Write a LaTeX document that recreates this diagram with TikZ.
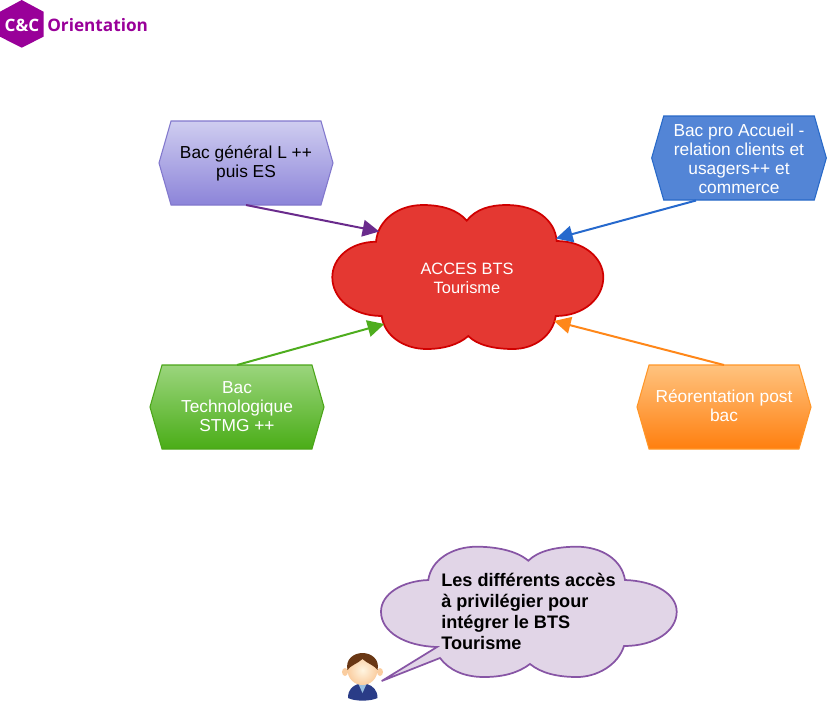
\documentclass[tikz,border=0pt]{standalone}
\usepackage{fontspec}
\setmainfont{Liberation Sans}
\newfontfamily\logofont{Open Sans}
\usetikzlibrary{arrows.meta,shapes.symbols,shadings}
\definecolor{logop}{HTML}{990099}
\definecolor{suit}{RGB}{42,60,135}
\definecolor{tie}{RGB}{150,190,225}
\definecolor{skin}{RGB}{250,205,160}
\definecolor{skinl}{RGB}{255,245,225}
\definecolor{hair}{RGB}{105,55,20}
\definecolor{cloudd}{RGB}{208,0,0}
\definecolor{cloudf}{RGB}{228,56,50}
\definecolor{bubd}{RGB}{135,85,165}
\definecolor{bubf}{RGB}{225,213,231}
\tikzset{
  x=0.75pt,y=-0.75pt,
  hexa/.style={signal,signal to=east and west,signal pointer angle=148,minimum width=130.5pt,minimum height=63pt,inner sep=0pt,outer sep=0pt,line width=0.8pt},
  hexlabel/.style={align=center,font=\fontsize{13}{14.3}\selectfont,inner sep=0pt},
  conn/.style={line width=1.5pt,-{Triangle[length=12.5pt,width=12.5pt]}},
  cloudtext/.style={align=center,text=white,font=\fontsize{12.3}{14.3}\selectfont},
}
\begin{document}
\begin{tikzpicture}
\useasboundingbox (0,0) rectangle (827,701);
% logo
\fill[logop] (21.7,0) -- (43.5,11.7) -- (43.5,36.7) -- (21.7,47.7) -- (0,36.7) -- (0,11.7) -- cycle;
\node[text=white,font=\logofont\bfseries\fontsize{12.8}{16}\selectfont,inner sep=0pt] (logoa) at (22,25) {C\&C};
\node[text=logop,font=\logofont\bfseries\fontsize{12.9}{16}\selectfont,inner sep=0pt,anchor=west] (logob) at (47,25) {Orientation};
% central cloud
\path[draw=cloudd,fill=cloudf,line width=1.3pt]
 (466.7,220.7) .. controls (476,209) and (490,205) .. (506.7,205)
 .. controls (536,205) and (555,220) .. (556.7,241)
 .. controls (584,241) and (603.3,258) .. (603.3,277.3)
 .. controls (603.3,298) and (584,316) .. (555.7,316)
 .. controls (553,335) and (535,349) .. (513,349)
 .. controls (494,349) and (477,345) .. (468.3,336)
 .. controls (458,345) and (443,349) .. (426.7,349)
 .. controls (403,349) and (384,335) .. (381.7,316)
 .. controls (352,316) and (332.3,298) .. (332.3,277.3)
 .. controls (332.3,258) and (350,242) .. (376,241.7)
 .. controls (378,220) and (398,205) .. (423,205)
 .. controls (442,205) and (458,210) .. (466.7,220.7) -- cycle;
\node[cloudtext,inner sep=0pt] (cloud) at (467,278.5) {ACCES BTS\\Tourisme};
\coordinate (tipa) at (379.3,231.5);
\coordinate (tipb) at (556,238.5);
\coordinate (tipc) at (384.3,324);
\coordinate (tipd) at (554,321);
\coordinate (blueout) at (696,200.5);
% sources
\node[hexa,draw={rgb,255:red,130;green,120;blue,205},top color={rgb,255:red,207;green,205;blue,240},bottom color={rgb,255:red,140;green,132;blue,217},label={[hexlabel,yshift=-0.6pt]center:Bac général L ++\\puis ES}] (gen) at (246,163) {};
\node[hexa,draw={rgb,255:red,40;green,105;blue,200},fill={rgb,255:red,83;green,133;blue,214},minimum width=131pt,label={[hexlabel,text=white,yshift=-0.75pt]center:Bac pro Accueil -\\relation clients et\\usagers++ et\\commerce}] (pro) at (739,158) {};
\node[hexa,draw={rgb,255:red,75;green,165;blue,25},top color={rgb,255:red,155;green,213;blue,125},bottom color={rgb,255:red,74;green,173;blue,23},label={[hexlabel,text=white]center:Bac\\Technologique\\STMG ++}] (tec) at (237,407) {};
\node[hexa,draw={rgb,255:red,255;green,150;blue,40},top color={rgb,255:red,255;green,195;blue,127},bottom color={rgb,255:red,255;green,127;blue,15},label={[hexlabel,text=white,yshift=0.75pt]center:Réorentation post\\bac}] (reo) at (724,407) {};
% connectors
\draw[conn,draw={rgb,255:red,106;green,43;blue,140},fill={rgb,255:red,106;green,43;blue,140}] (gen.south) -- (tipa);
\draw[conn,draw={rgb,255:red,38;green,105;blue,205},fill={rgb,255:red,38;green,105;blue,205}] (blueout) -- (tipb);
\draw[conn,draw={rgb,255:red,78;green,173;blue,30},fill={rgb,255:red,78;green,173;blue,30}] (tec.north) -- (tipc);
\draw[conn,draw={rgb,255:red,255;green,135;blue,25},fill={rgb,255:red,255;green,135;blue,25}] (reo.north) -- (tipd);
% speech bubble
\path[draw=bubd,fill=bubf,line width=1.3pt]
 (528.3,560.7) .. controls (538,551) and (556,546.7) .. (576.7,546.7)
 .. controls (602,546.7) and (622,560) .. (625,580)
 .. controls (655,581) and (676.7,594) .. (676.7,611.7)
 .. controls (676.7,631) and (655,646) .. (624,646)
 .. controls (618,665) and (597,677) .. (577,677)
 .. controls (557,677) and (541,673) .. (530,664)
 .. controls (518,673) and (503,677) .. (484,677)
 .. controls (464,677) and (449,670) .. (440,658)
 -- (381.7,681) -- (437,647)
 .. controls (405,646) and (381,632) .. (381,611.7)
 .. controls (381,594) and (402,581) .. (428.3,580)
 .. controls (431,560) and (452,546.7) .. (476.7,546.7)
 .. controls (497,546.7) and (517,551) .. (528.3,560.7) -- cycle;
\node[align=left,anchor=north west,inner sep=0pt,font=\bfseries\fontsize{13.6}{15.75}\selectfont] (say) at (441,573) {Les différents accès\\à privilégier pour\\intégrer le BTS\\Tourisme};
% person
\fill[suit] (348,698) .. controls (348,690) and (352,686) .. (358,684) -- (367,684) .. controls (373,686) and (377.5,690) .. (377.5,698) .. controls (370,701.5) and (355,701.5) .. (348,698) -- cycle;
\fill[tie] (358.5,684) -- (366.5,684) -- (362.5,693) -- cycle;
\fill[skin] (345,672) ellipse[x radius=3,y radius=4];
\fill[skin] (380,672) ellipse[x radius=3,y radius=4];
\shade[inner color=skinl,outer color=skin] (362.5,670) ellipse[x radius=15,y radius=15];
\fill[hair] (347.5,670) .. controls (345,659) and (354,653) .. (362.5,653) .. controls (371,653) and (380,659) .. (377.5,670) .. controls (374,665) and (368,664) .. (362.5,659) .. controls (357,664) and (351,665) .. (347.5,670) -- cycle;
\end{tikzpicture}
\end{document}
